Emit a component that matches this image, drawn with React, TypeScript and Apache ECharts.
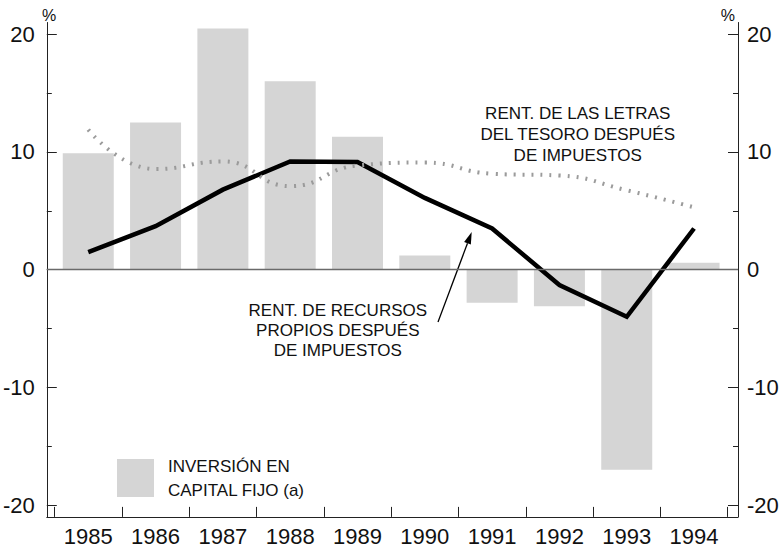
import React, { useEffect, useRef } from "react";
import * as echarts from "echarts";

const years = ["1985", "1986", "1987", "1988", "1989", "1990", "1991", "1992", "1993", "1994"];
const inversion = [9.9, 12.5, 20.5, 16.0, 11.3, 1.2, -2.8, -3.1, -17.0, 0.6];
const recursosPropios = [1.5, 3.7, 6.8, 9.2, 9.15, 6.1, 3.5, -1.3, -4.0, 3.5];
const letrasTesoro = [11.9, 8.55, 9.2, 7.1, 8.85, 9.1, 8.15, 8.0, 6.75, 5.3];
const majorTicks = [-20, -10, 0, 10, 20];
const minorTicks = [-15, -5, 5, 15];
const legendName = "INVERSIÓN EN CAPITAL FIJO (a)";
const legendLines = "INVERSIÓN EN\nCAPITAL FIJO (a)";
const letrasLabel = "RENT. DE LAS LETRAS\nDEL TESORO DESPUÉS\nDE IMPUESTOS";
const recursosLabel = "RENT. DE RECURSOS\nPROPIOS DESPUÉS\nDE IMPUESTOS";

const FONT = '"Liberation Sans", Arial, sans-serif';
const TXT = "#111";
const AX = "#222";

export default function App() {
  const ref = useRef<HTMLDivElement>(null);
  useEffect(() => {
    if (!ref.current) return;
    const chart = echarts.init(ref.current, undefined, { renderer: "svg" });
    const gridTop = 22.5;
    const gridBottom = 32.1;
    const yMin = -21;
    const yMax = 21;
    const majorAxis = (pos: "left" | "right", margin: number) => ({
      type: "value",
      gridIndex: 0,
      position: pos,
      min: yMin,
      max: yMax,
      axisLine: { show: true, lineStyle: { color: AX, width: 1 } },
      axisTick: {
        show: true,
        inside: true,
        length: 10,
        customValues: majorTicks,
        lineStyle: { color: AX, width: 1 },
      },
      axisLabel: {
        show: true,
        customValues: majorTicks,
        margin,
        fontSize: 22,
        fontFamily: FONT,
        color: TXT,
      },
      splitLine: { show: false },
    });
    const minorAxis = (pos: "left" | "right") => ({
      type: "value",
      gridIndex: 0,
      position: pos,
      min: yMin,
      max: yMax,
      axisLine: { show: false },
      axisTick: {
        show: true,
        inside: true,
        length: 5,
        customValues: minorTicks,
        lineStyle: { color: AX, width: 1 },
      },
      axisLabel: { show: false, customValues: minorTicks },
      splitLine: { show: false },
    });

    // arrow geometry (annotation)
    const tip = [471.7, 232];
    const tail = [438, 322];
    const dx = tip[0] - tail[0];
    const dy = tip[1] - tail[1];
    const len = Math.sqrt(dx * dx + dy * dy);
    const ux = dx / len;
    const uy = dy / len;
    const headLen = 12;
    const headHalf = 3.6;
    const bx = tip[0] - ux * headLen;
    const by = tip[1] - uy * headLen;
    const px = -uy * headHalf;
    const py = ux * headHalf;

    chart.setOption({
      animation: false,
      backgroundColor: "#fff",
      textStyle: { fontFamily: FONT },
      grid: [
        { left: 44, right: 44, top: gridTop, bottom: gridBottom, containLabel: false },
        { left: 54.6, right: 54.3, top: gridTop, bottom: gridBottom, containLabel: false },
      ],
      xAxis: [
        {
          type: "value",
          gridIndex: 0,
          min: 0,
          max: 1,
          axisLine: { show: true, onZero: false, lineStyle: { color: AX, width: 1 } },
          axisTick: { show: false },
          axisLabel: { show: false },
          splitLine: { show: false },
        },
        {
          type: "category",
          gridIndex: 1,
          data: years,
          boundaryGap: true,
          axisLine: { show: false, onZero: false },
          axisTick: {
            show: true,
            inside: true,
            length: 10,
            alignWithLabel: false,
            interval: 0,
            lineStyle: { color: AX, width: 1 },
          },
          axisLabel: {
            interval: 0,
            margin: 9,
            fontSize: 22,
            fontFamily: FONT,
            color: TXT,
          },
          splitLine: { show: false },
        },
      ],
      yAxis: [
        majorAxis("left", 12),
        minorAxis("left"),
        majorAxis("right", 9),
        minorAxis("right"),
        {
          type: "value",
          gridIndex: 1,
          min: yMin,
          max: yMax,
          show: false,
          splitLine: { show: false },
        },
      ],
      legend: {
        show: true,
        left: 117,
        top: 454,
        padding: 0,
        selectedMode: false,
        orient: "vertical",
        icon: "rect",
        itemWidth: 37,
        itemHeight: 38,
        data: [legendName],
        formatter: () => legendLines,
        textStyle: {
          fontSize: 17,
          lineHeight: 24,
          color: TXT,
          fontFamily: FONT,
          padding: [0, 0, 0, 9],
        },
      },
      series: [
        {
          name: legendName,
          type: "bar",
          xAxisIndex: 1,
          yAxisIndex: 4,
          data: inversion,
          barWidth: 51,
          itemStyle: { color: "#d5d5d5" },
          z: 1,
        },
        {
          name: "zero",
          type: "line",
          xAxisIndex: 0,
          yAxisIndex: 0,
          data: [],
          z: 3,
          markLine: {
            silent: true,
            symbol: ["none", "none"],
            label: { show: false },
            lineStyle: { color: "#6a6a6a", width: 1.3, type: "solid" },
            data: [{ yAxis: 0 }],
          },
        },
        {
          name: "letras",
          type: "line",
          xAxisIndex: 1,
          yAxisIndex: 4,
          data: letrasTesoro,
          smooth: 0.5,
          showSymbol: false,
          symbol: "none",
          lineStyle: { color: "#9b9b9b", width: 4, type: [2, 7], cap: "butt" },
          z: 5,
        },
        {
          name: "recursos",
          type: "line",
          xAxisIndex: 1,
          yAxisIndex: 4,
          data: recursosPropios,
          showSymbol: false,
          symbol: "none",
          lineStyle: { color: "#000", width: 4.5, join: "miter" },
          z: 4,
        },
      ],
      graphic: [
        {
          type: "text",
          left: 42,
          top: 7,
          style: { text: "%", font: `16px ${FONT}`, fill: TXT },
        },
        {
          type: "text",
          right: 782 - 735,
          top: 7,
          style: { text: "%", font: `16px ${FONT}`, fill: TXT },
        },
        {
          type: "text",
          x: 577.7,
          y: 134.5,
          style: {
            text: letrasLabel,
            font: `17px ${FONT}`,
            fill: TXT,
            align: "center",
            verticalAlign: "middle",
            lineHeight: 20.7,
          },
        },
        {
          type: "text",
          x: 337.8,
          y: 330,
          style: {
            text: recursosLabel,
            font: `17px ${FONT}`,
            fill: TXT,
            align: "center",
            verticalAlign: "middle",
            lineHeight: 20,
          },
        },
        {
          type: "line",
          shape: { x1: tail[0], y1: tail[1], x2: bx, y2: by },
          style: { stroke: "#000", lineWidth: 1.3 },
        },
        {
          type: "polygon",
          shape: {
            points: [
              [tip[0], tip[1]],
              [bx + px, by + py],
              [bx - px, by - py],
            ],
          },
          style: { fill: "#000" },
        },
      ],
    });
    return () => chart.dispose();
  }, []);
  return (
    <div
      ref={ref}
      style={{ position: "fixed", left: 0, top: 0, width: 782, height: 549, background: "#fff" }}
    />
  );
}
